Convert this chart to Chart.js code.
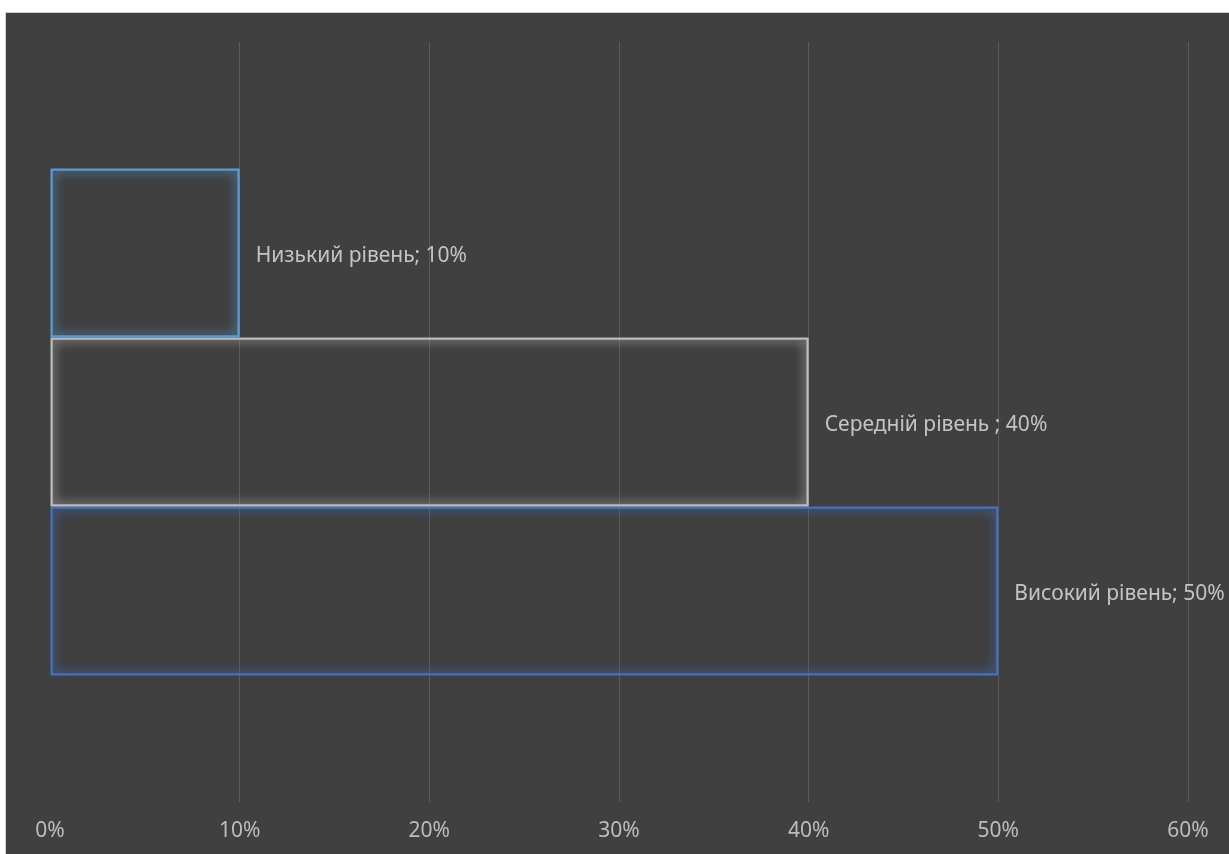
<!DOCTYPE html>
<html>
<head>
<meta charset="utf-8">
<script src="https://cdn.jsdelivr.net/npm/chart.js@4/dist/chart.umd.min.js"></script>
<style>
  html, body { margin: 0; padding: 0; background: #ffffff; overflow: hidden; }
  #panel {
    position: absolute; left: 5px; top: 12px;
    width: 1223px; height: 841px;
    background: #404040;
    border-left: 1px solid #d0d0d0; border-top: 1px solid #d0d0d0;
  }
  #chart { display: block; }
</style>
</head>
<body>
<div id="panel"><canvas id="chart" width="1223" height="841"></canvas></div>
<script>
// one category, three series (one per level)
const categories = [""];
const levels = ["Низький рівень", "Середній рівень ", "Високий рівень"];
const values = [10, 40, 50];
const tickValues = [0, 10, 20, 30, 40, 50, 60];

const borderColors = ["#5b9bd5", "#bcbcbc", "#4472c4"];
const glowColors = ["rgba(91,155,213,0.9)", "rgba(210,210,210,0.75)", "rgba(68,114,196,0.9)"];

// soft glow round each bar outline, drawn twice so it shows like the original
const glow = {
  id: "glow",
  beforeDatasetDraw(chart, args) {
    const ctx = chart.ctx;
    ctx.save();
    ctx.shadowColor = glowColors[args.index];
    ctx.shadowBlur = 11;
  },
  afterDatasetDraw(chart, args) {
    chart.getDatasetMeta(args.index).controller.draw();
    chart.ctx.restore();
  }
};

const barLabels = {
  id: "barLabels",
  afterDatasetsDraw(chart) {
    const ctx = chart.ctx;
    ctx.save();
    ctx.font = '21px "Noto Sans"';
    ctx.fillStyle = "#c4c4c4";
    ctx.textAlign = "left";
    ctx.textBaseline = "middle";
    chart.data.datasets.forEach((ds, i) => {
      const el = chart.getDatasetMeta(i).data[0];
      ctx.fillText(levels[i] + "; " + values[i] + "%", el.x + 16, el.y + 3);
    });
    ctx.restore();
  }
};

new Chart(document.getElementById("chart"), {
  type: "bar",
  data: {
    labels: categories,
    datasets: levels.map((name, i) => ({
      label: name,
      data: [values[i]],
      backgroundColor: "transparent",
      borderColor: borderColors[i],
      borderWidth: 2,
      borderSkipped: false,
      categoryPercentage: 0.667,
      barPercentage: 1.0
    }))
  },
  options: {
    indexAxis: "y",
    responsive: false,
    animation: false,
    layout: { padding: { left: 44, right: 41, top: 29, bottom: 0 } },
    plugins: {
      legend: { display: false },
      tooltip: { enabled: false }
    },
    scales: {
      x: {
        min: 0,
        max: 60,
        afterBuildTicks: (axis) => { axis.ticks = tickValues.map(v => ({ value: v })); },
        afterFit: (axis) => { axis.height = 52; },
        border: { display: false },
        grid: {
          drawTicks: false,
          color: (c) => c.tick && c.tick.value === 0 ? "transparent" : "#5a5a5a",
          lineWidth: 1
        },
        ticks: {
          padding: 16,
          color: "#bdbdbd",
          font: { family: "Noto Sans", size: 21 },
          callback: (v) => v + "%"
        }
      },
      y: { display: false }
    }
  },
  plugins: [glow, barLabels]
});
</script>
</body>
</html>
